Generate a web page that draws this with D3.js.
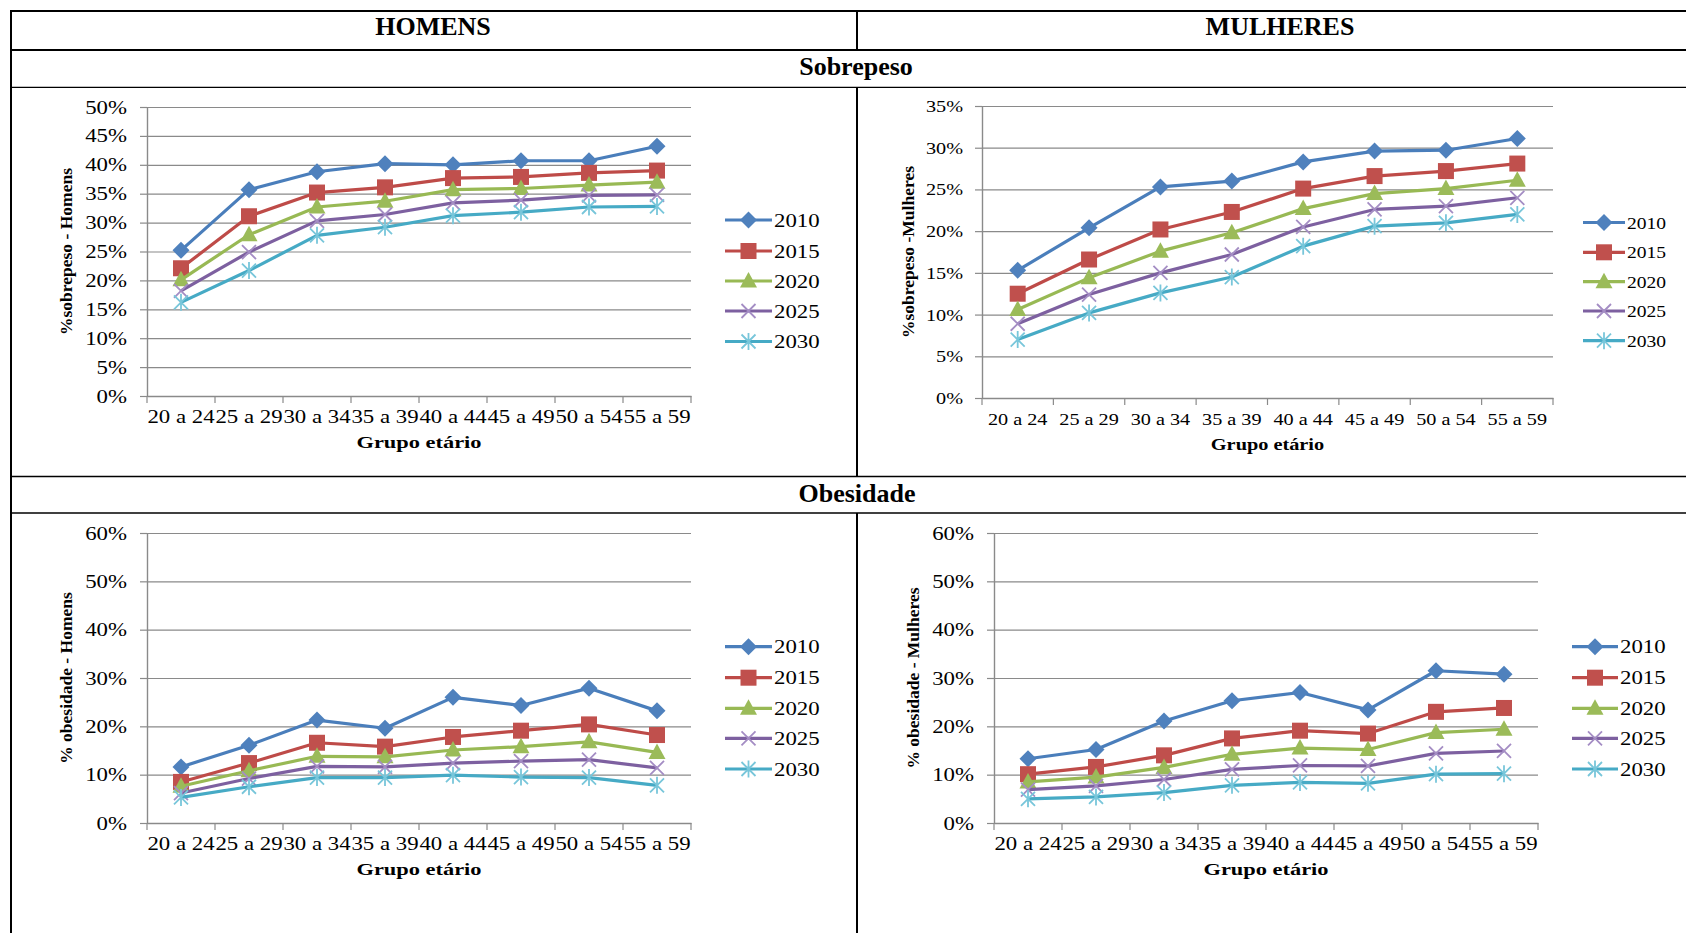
<!DOCTYPE html>
<html>
<head>
<meta charset="utf-8">
<script src="https://cdn.jsdelivr.net/npm/d3@7"></script>
<style>
  body { margin: 0; background: #fff; }
  svg { display: block; }
  text { font-family: "Liberation Serif", "Times New Roman", serif; fill: #000; }
</style>
</head>
<body>
<svg id="fig" width="1686" height="933"></svg>
<script>
// ---- data -------------------------------------------------------------
const ageGroups = ["20 a 24", "25 a 29", "30 a 34", "35 a 39", "40 a 44", "45 a 49", "50 a 54", "55 a 59"];
const years = ["2010", "2015", "2020", "2025", "2030"];

// one row per projection year (2010 … 2030), one value per age group, in %
const sobrepesoHomens = [
  [25.2, 35.7, 38.8, 40.2, 40.0, 40.7, 40.7, 43.2],
  [22.1, 31.1, 35.2, 36.1, 37.7, 37.9, 38.6, 39.0],
  [20.1, 27.9, 32.7, 33.7, 35.7, 35.9, 36.5, 37.0],
  [18.2, 24.9, 30.3, 31.4, 33.4, 33.9, 34.7, 34.8],
  [16.2, 21.7, 27.8, 29.2, 31.2, 31.8, 32.7, 32.8]
];
const sobrepesoMulheres = [
  [15.3, 20.4, 25.3, 26.0, 28.3, 29.6, 29.7, 31.1],
  [12.5, 16.6, 20.2, 22.3, 25.1, 26.6, 27.2, 28.1],
  [10.6, 14.4, 17.6, 19.8, 22.7, 24.5, 25.1, 26.1],
  [8.9, 12.4, 15.0, 17.2, 20.5, 22.6, 23.0, 24.0],
  [7.0, 10.2, 12.6, 14.5, 18.2, 20.6, 21.0, 22.0]
];
const obesidadeHomens = [
  [11.6, 16.1, 21.3, 19.6, 26.0, 24.3, 27.9, 23.2],
  [8.5, 12.4, 16.6, 15.8, 17.8, 19.1, 20.4, 18.2],
  [7.6, 10.8, 13.8, 13.7, 15.1, 15.8, 16.8, 14.6],
  [6.2, 9.2, 11.7, 11.6, 12.4, 12.8, 13.1, 11.4],
  [5.3, 7.5, 9.4, 9.4, 9.9, 9.5, 9.4, 7.8]
];
const obesidadeMulheres = [
  [13.3, 15.2, 21.1, 25.3, 27.0, 23.4, 31.5, 30.8],
  [10.1, 11.6, 14.0, 17.5, 19.1, 18.5, 23.0, 23.8],
  [8.5, 9.5, 11.5, 14.2, 15.5, 15.2, 18.7, 19.4],
  [6.9, 7.7, 9.0, 11.1, 11.9, 11.8, 14.4, 14.9],
  [5.0, 5.4, 6.3, 7.8, 8.4, 8.2, 10.1, 10.2]
];

const yTicks50 = [0, 5, 10, 15, 20, 25, 30, 35, 40, 45, 50];
const yTicks35 = [0, 5, 10, 15, 20, 25, 30, 35];
const yTicks60 = [0, 10, 20, 30, 40, 50, 60];

// ---- styling ----------------------------------------------------------
const lineColors   = ["#4A7EBB", "#BE4B48", "#98B954", "#7D60A0", "#46AAC5"];
const markerColors = ["#4F81BD", "#C0504D", "#9BBB59", "#A48DC4", "#78C6DA"];
const markerKinds  = ["diamond", "square", "triangle", "x", "star"];
const gridColor = "#8A8A8A";

const svg = d3.select("#fig");

// widen glyphs horizontally by factor k, keeping the anchor
function stretch(sel, k) {
  sel.each(function () {
    const w = this.getComputedTextLength();
    d3.select(this).attr("textLength", w * k).attr("lengthAdjust", "spacingAndGlyphs");
  });
}

function drawMarker(g, kind, color, cx, cy) {
  const m = g.append("g").attr("transform", `translate(${cx},${cy})`);
  if (kind === "diamond") {
    m.append("path").attr("d", "M0,-8.5L8.5,0L0,8.5L-8.5,0Z").attr("fill", color);
  } else if (kind === "square") {
    m.append("rect").attr("x", -8).attr("y", -8).attr("width", 16).attr("height", 16).attr("fill", color);
  } else if (kind === "triangle") {
    m.append("path").attr("d", "M0,-9L8.5,6.5L-8.5,6.5Z").attr("fill", color);
  } else if (kind === "x") {
    m.append("path").attr("d", "M-7,-7L7,7M-7,7L7,-7")
      .attr("stroke", color).attr("stroke-width", 1.8).attr("fill", "none");
  } else if (kind === "star") {
    m.append("path").attr("d", "M-7,-7L7,7M-7,7L7,-7M0,-8.5L0,8.5")
      .attr("stroke", color).attr("stroke-width", 1.8).attr("fill", "none");
  }
}

// ---- table frame ------------------------------------------------------
const frame = svg.append("g").attr("stroke", "#000").attr("fill", "none");
[[11, 2], [50, 2], [87.3, 1.2], [476.5, 1.5], [513, 1.5]].forEach(([y, w]) =>
  frame.append("line").attr("x1", 10).attr("x2", 1686).attr("y1", y).attr("y2", y).attr("stroke-width", w));
frame.append("line").attr("x1", 11).attr("x2", 11).attr("y1", 10).attr("y2", 933).attr("stroke-width", 2);
[[10, 50], [87, 476.5], [513, 933]].forEach(([a, b]) =>
  frame.append("line").attr("x1", 857).attr("x2", 857).attr("y1", a).attr("y2", b).attr("stroke-width", 2));

const headers = [
  { text: "HOMENS", x: 433, y: 35 },
  { text: "MULHERES", x: 1280, y: 35 },
  { text: "Sobrepeso", x: 856, y: 75 },
  { text: "Obesidade", x: 857, y: 502 }
];
svg.selectAll("text.header").data(headers).join("text")
  .attr("class", "header")
  .attr("x", d => d.x).attr("y", d => d.y)
  .attr("text-anchor", "middle")
  .style("font-size", "26px").style("font-weight", "bold")
  .text(d => d.text);

// ---- panels -----------------------------------------------------------
const panels = [
  { values: sobrepesoHomens, ticks: yTicks50, max: 50,
    x0: 147, x1: 691, yTop: 107, yBot: 396,
    yTitle: "%sobrepeso - Homens", yTitleX: 66,
    font: 19, k: 1.2, titleK: 1.28, labelGap: 13,
    legX: 725, legW: 47, legY: [220, 251, 281, 311, 341.5], legK: 1.2, legFont: 19 },
  { values: sobrepesoMulheres, ticks: yTicks35, max: 35,
    x0: 982, x1: 1553, yTop: 106, yBot: 398,
    yTitle: "%sobrepeso -Mulheres", yTitleX: 908,
    font: 17.3, k: 1.17, titleK: 1.16, labelGap: 12,
    legX: 1583, legW: 42, legY: [222.5, 252.3, 281.7, 311, 340.7], legK: 1.13, legFont: 17.3 },
  { values: obesidadeHomens, ticks: yTicks60, max: 60,
    x0: 147, x1: 691, yTop: 533, yBot: 823,
    yTitle: "% obesidade - Homens", yTitleX: 66,
    font: 19, k: 1.2, titleK: 1.28, labelGap: 13,
    legX: 725, legW: 47, legY: [646.7, 677.7, 708.3, 738.3, 769], legK: 1.2, legFont: 19 },
  { values: obesidadeMulheres, ticks: yTicks60, max: 60,
    x0: 994, x1: 1538, yTop: 533, yBot: 823,
    yTitle: "% obesidade - Mulheres", yTitleX: 913,
    font: 19, k: 1.2, titleK: 1.28, labelGap: 13,
    legX: 1572, legW: 46, legY: [646.7, 677.7, 708.3, 738.3, 769], legK: 1.2, legFont: 19 }
];

panels.forEach(p => {
  const g = svg.append("g");
  const x = d3.scaleBand().domain(ageGroups).range([p.x0, p.x1]).padding(0);
  const y = d3.scaleLinear().domain([0, p.max]).range([p.yBot, p.yTop]);
  const cx = d => x(d) + x.bandwidth() / 2;

  // horizontal gridlines
  const grid = g.append("g").attr("transform", `translate(${p.x0},0)`)
    .call(d3.axisLeft(y).tickValues(p.ticks).tickSize(-(p.x1 - p.x0)).tickFormat(""));
  grid.select(".domain").remove();
  grid.selectAll("line").attr("stroke", gridColor).attr("stroke-width", 1.2);

  // y axis with percent labels
  const ya = g.append("g").attr("transform", `translate(${p.x0},0)`)
    .call(d3.axisLeft(y).tickValues(p.ticks).tickSize(7).tickSizeOuter(0)
      .tickPadding(p.labelGap).tickFormat(d => d + "%"));
  ya.select(".domain").attr("stroke", gridColor).attr("stroke-width", 1.4);
  ya.selectAll(".tick line").attr("stroke", gridColor).attr("stroke-width", 1.2);
  ya.selectAll("text").attr("font-family", null).style("font-size", p.font + "px").attr("fill", "#000");
  stretch(ya.selectAll("text"), p.k);

  // x axis: category labels, ticks on band boundaries
  const xa = g.append("g").attr("transform", `translate(0,${p.yBot})`)
    .call(d3.axisBottom(x).tickSize(0).tickSizeOuter(0));
  xa.select(".domain").attr("stroke", gridColor).attr("stroke-width", 1.4);
  xa.selectAll("text").attr("font-family", null).attr("y", 27).attr("dy", 0)
    .style("font-size", p.font + "px").attr("fill", "#000");
  stretch(xa.selectAll("text"), p.k);
  const bounds = ageGroups.map(d => x(d)).concat([x.range()[1]]);
  g.append("g").selectAll("line").data(bounds).join("line")
    .attr("x1", d => d).attr("x2", d => d)
    .attr("y1", p.yBot).attr("y2", p.yBot + 7)
    .attr("stroke", gridColor).attr("stroke-width", 1.2);

  // axis titles
  const xt = g.append("text")
    .attr("x", (p.x0 + p.x1) / 2).attr("y", p.yBot + 52)
    .attr("text-anchor", "middle")
    .style("font-size", "17.5px").style("font-weight", "bold")
    .text("Grupo etário");
  stretch(xt, p.titleK);
  g.append("text")
    .attr("transform", `translate(${p.yTitleX},${(p.yTop + p.yBot) / 2}) rotate(-90)`)
    .attr("text-anchor", "middle").attr("dy", "0.35em")
    .style("font-size", "17.5px").style("font-weight", "bold")
    .text(p.yTitle);

  // series
  const line = d3.line().x((v, i) => cx(ageGroups[i])).y(v => y(v));
  p.values.forEach((vals, s) => {
    const sg = g.append("g");
    sg.append("path").attr("d", line(vals))
      .attr("fill", "none").attr("stroke", lineColors[s])
      .attr("stroke-width", 3.2).attr("stroke-linejoin", "round");
    vals.forEach((v, i) => drawMarker(sg, markerKinds[s], markerColors[s], cx(ageGroups[i]), y(v)));
  });

  // legend
  years.forEach((yr, s) => {
    const ly = p.legY[s];
    const lg = g.append("g");
    lg.append("line").attr("x1", p.legX).attr("x2", p.legX + p.legW)
      .attr("y1", ly).attr("y2", ly)
      .attr("stroke", lineColors[s]).attr("stroke-width", 3.2);
    drawMarker(lg, markerKinds[s], markerColors[s], p.legX + p.legW / 2, ly);
    const t = lg.append("text").attr("x", p.legX + p.legW + 2).attr("y", ly).attr("dy", "0.35em")
      .style("font-size", p.legFont + "px").text(yr);
    stretch(t, p.legK);
  });
});
</script>
</body>
</html>
